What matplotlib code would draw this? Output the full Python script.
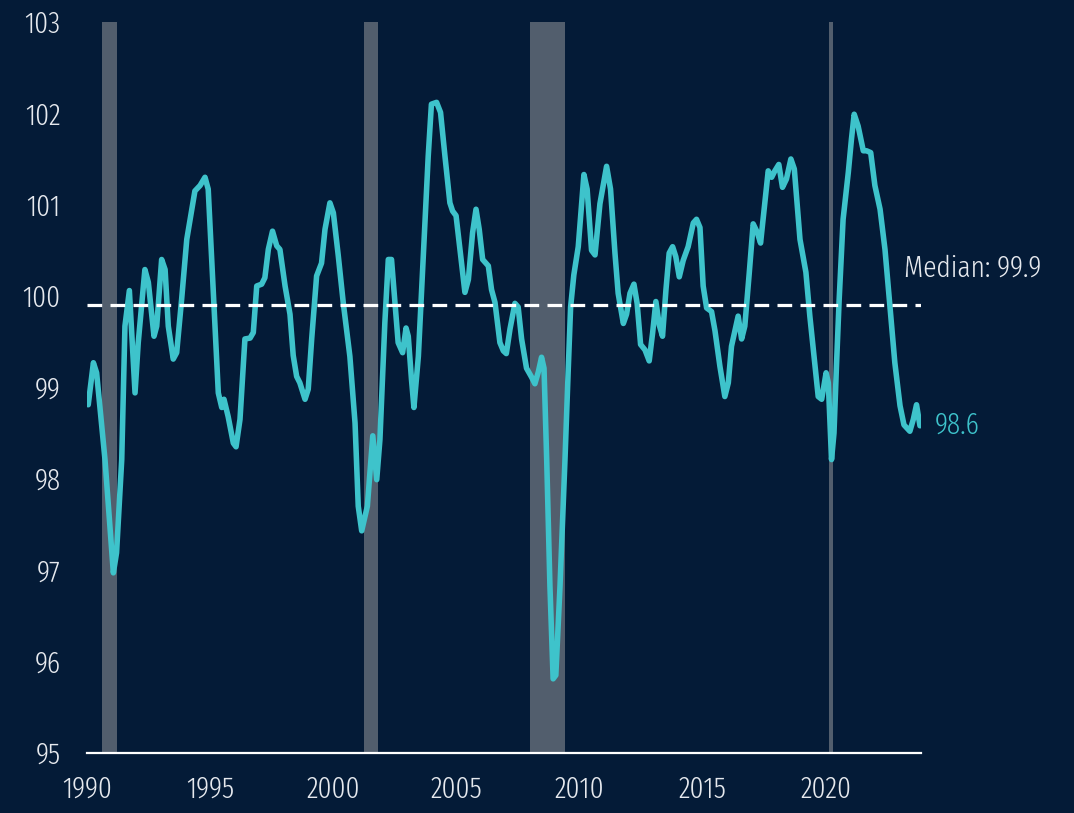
import matplotlib.pyplot as plt

# index level (year, value)
years = [
    1990.05, 1990.26, 1990.39, 1990.73, 1991.07, 1991.20, 1991.41, 1991.54, 1991.72, 1991.95,
    1992.08, 1992.35, 1992.49, 1992.72, 1992.83, 1993.03, 1993.17, 1993.30, 1993.50, 1993.64,
    1993.84, 1994.05, 1994.38, 1994.59, 1994.79, 1994.92, 1995.13, 1995.33, 1995.47, 1995.56,
    1995.73, 1995.94, 1996.05, 1996.21, 1996.41, 1996.62, 1996.75, 1996.89, 1997.09, 1997.22,
    1997.36, 1997.53, 1997.70, 1997.83, 1998.04, 1998.24, 1998.37, 1998.51, 1998.64, 1998.85,
    1998.98, 1999.12, 1999.32, 1999.52, 1999.66, 1999.86, 2000.00, 2000.20, 2000.40, 2000.67,
    2000.88, 2001.01, 2001.15, 2001.38, 2001.60, 2001.76, 2001.89, 2002.09, 2002.23, 2002.36,
    2002.50, 2002.63, 2002.81, 2002.95, 2003.04, 2003.17, 2003.27, 2003.45, 2003.65, 2003.85,
    2003.98, 2004.19, 2004.35, 2004.53, 2004.73, 2004.84, 2004.98, 2005.14, 2005.34, 2005.48,
    2005.65, 2005.79, 2005.92, 2006.06, 2006.29, 2006.42, 2006.56, 2006.76, 2006.90, 2007.02,
    2007.17, 2007.37, 2007.50, 2007.64, 2007.84, 2008.05, 2008.18, 2008.32, 2008.45, 2008.55,
    2008.66, 2008.79, 2008.92, 2009.03, 2009.20, 2009.40, 2009.53, 2009.63, 2009.76, 2009.94,
    2010.17, 2010.30, 2010.48, 2010.62, 2010.82, 2011.09, 2011.25, 2011.43, 2011.56, 2011.77,
    2011.90, 2012.04, 2012.20, 2012.33, 2012.47, 2012.65, 2012.82, 2012.96, 2013.09, 2013.23,
    2013.36, 2013.50, 2013.63, 2013.77, 2013.90, 2014.04, 2014.20, 2014.40, 2014.61, 2014.74,
    2014.88, 2015.01, 2015.15, 2015.35, 2015.49, 2015.69, 2015.89, 2016.03, 2016.16, 2016.43,
    2016.57, 2016.70, 2016.88, 2017.04, 2017.20, 2017.34, 2017.47, 2017.65, 2017.79, 2017.92,
    2018.08, 2018.23, 2018.39, 2018.57, 2018.71, 2018.94, 2019.18, 2019.34, 2019.55, 2019.68,
    2019.82, 2020.00, 2020.09, 2020.22, 2020.32, 2020.42, 2020.53, 2020.69, 2020.90, 2021.03,
    2021.14, 2021.30, 2021.51, 2021.64, 2021.81, 2021.98, 2022.19, 2022.39, 2022.59, 2022.79,
    2023.00, 2023.16, 2023.40, 2023.54, 2023.67, 2023.81,
]
values = [
    98.81, 99.27, 99.16, 98.21, 96.97, 97.19, 98.21, 99.67, 100.06, 98.94,
    99.49, 100.29, 100.15, 99.56, 99.67, 100.40, 100.29, 99.67, 99.31, 99.38,
    99.96, 100.62, 101.15, 101.21, 101.30, 101.17, 100.04, 98.94, 98.78, 98.87,
    98.68, 98.39, 98.35, 98.65, 99.53, 99.54, 99.60, 100.11, 100.13, 100.20,
    100.51, 100.71, 100.55, 100.51, 100.11, 99.80, 99.35, 99.12, 99.05, 98.87,
    98.98, 99.53, 100.22, 100.36, 100.73, 101.02, 100.91, 100.44, 99.93, 99.34,
    98.61, 97.70, 97.43, 97.70, 98.47, 97.99, 98.43, 99.71, 100.40, 100.40,
    99.93, 99.49, 99.38, 99.65, 99.56, 99.09, 98.78, 99.34, 100.44, 101.53,
    102.10, 102.12, 102.01, 101.53, 101.02, 100.93, 100.88, 100.51, 100.04, 100.18,
    100.69, 100.95, 100.73, 100.40, 100.33, 100.07, 99.93, 99.49, 99.40, 99.37,
    99.64, 99.92, 99.88, 99.53, 99.21, 99.11, 99.04, 99.17, 99.33, 99.21,
    98.20, 96.83, 95.81, 95.85, 96.83, 98.20, 99.17, 99.88, 100.23, 100.54,
    101.33, 101.17, 100.50, 100.45, 101.01, 101.42, 101.17, 100.47, 100.03, 99.70,
    99.80, 100.03, 100.13, 99.92, 99.47, 99.41, 99.29, 99.60, 99.94, 99.68,
    99.56, 100.07, 100.47, 100.54, 100.43, 100.21, 100.39, 100.54, 100.80, 100.84,
    100.75, 100.11, 99.87, 99.83, 99.62, 99.23, 98.90, 99.05, 99.45, 99.78,
    99.53, 99.67, 100.25, 100.79, 100.70, 100.58, 100.91, 101.37, 101.30, 101.37,
    101.44, 101.19, 101.28, 101.50, 101.39, 100.62, 100.26, 99.78, 99.23, 98.90,
    98.87, 99.16, 99.05, 98.21, 98.50, 99.23, 99.96, 100.84, 101.35, 101.72,
    101.99, 101.86, 101.59, 101.59, 101.57, 101.21, 100.95, 100.51, 99.89, 99.27,
    98.80, 98.59, 98.52, 98.65, 98.81, 98.58,
]

# recession periods
recessions = [(1990.6, 1991.22), (2001.25, 2001.83), (2008.0, 2009.42), (2020.13, 2020.29)]
median = 99.9
median_label = "Median: 99.9"
last_label = "98.6"

BG = "#041b37"
TEAL = "#3ec3cb"
GREY = "#525e6d"
TXT = "#e6e9ee"

plt.rcParams["font.family"] = ["Fira Sans Extra Condensed", "DejaVu Sans"]
plt.rcParams["font.weight"] = 300

fig = plt.figure(figsize=(10.74, 8.13), dpi=100, facecolor=BG)
ax = fig.add_axes([0.081, 0.074, 0.7765, 0.899])
ax.set_facecolor(BG)

for a, b in recessions:
    ax.axvspan(a, b, color=GREY, lw=0, zorder=1)

ax.plot(years, values, color=TEAL, lw=4.0, solid_joinstyle="round",
        solid_capstyle="round", zorder=3)
ax.axhline(median, color="white", lw=2.3, linestyle=(0, (4.6, 2.6)), zorder=4)

ax.text(2023.15, 100.3, median_label, color=TXT, fontsize=21.5,
        ha="left", va="center", clip_on=False)
ax.text(2024.4, 98.58, last_label, color=TEAL, fontsize=21.5,
        ha="left", va="center", clip_on=False)

ax.set_xlim(1990, 2023.85)
ax.set_ylim(95, 103)
ax.set_xticks(range(1990, 2021, 5))
ax.set_yticks(range(95, 104))

for s in ["left", "right", "top"]:
    ax.spines[s].set_visible(False)
ax.spines["bottom"].set_color("white")
ax.spines["bottom"].set_linewidth(1.6)
ax.spines["bottom"].set_zorder(5)

ax.tick_params(axis="y", length=0, pad=19, labelsize=21.5, labelcolor=TXT)
ax.tick_params(axis="x", length=0, pad=16, labelsize=21.5, labelcolor=TXT)

fig.savefig("out.png", dpi=100, facecolor=BG)
